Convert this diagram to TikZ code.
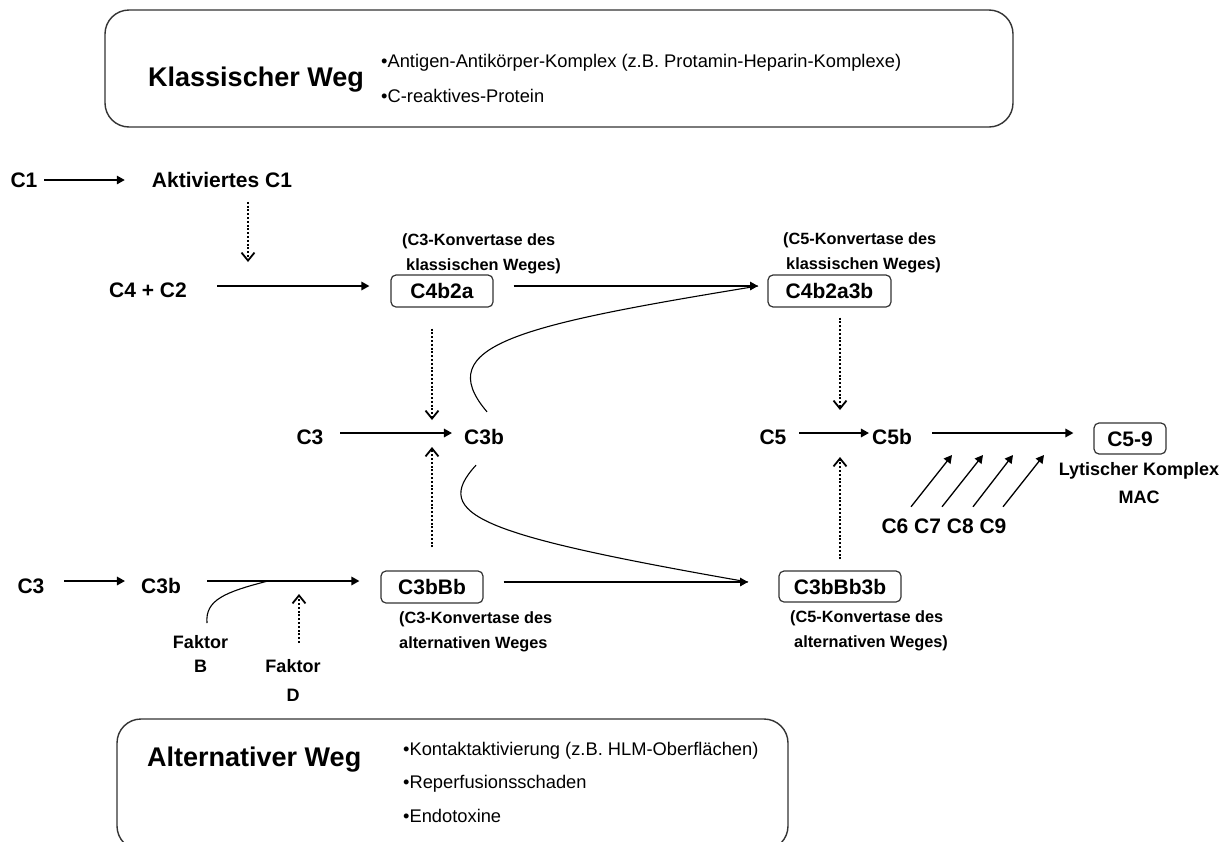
\documentclass[tikz,border=0pt]{standalone}
\usepackage{fontspec}
\setmainfont{Liberation Sans}
\usetikzlibrary{arrows.meta}
\begin{document}
\begin{tikzpicture}[x=1pt,y=-1pt,
  xlbl/.style={font=\fontsize{21}{25}\selectfont\bfseries, inner sep=0pt, text height=15.3pt, text depth=0pt},
  xbox/.style={xlbl, draw=black!80, line width=1.2pt, rounded corners=5pt, minimum height=32pt},
  xnote/.style={font=\fontsize{16.3}{24.5}\selectfont\bfseries, inner sep=0pt, align=left, anchor=north west},
  xsub/.style={font=\fontsize{18}{24}\selectfont\bfseries, inner sep=0pt, align=center, anchor=north},
  xframe/.style={draw=black!80, line width=1.4pt, rounded corners=24pt, inner sep=0pt},
  xhead/.style={font=\fontsize{27}{32}\selectfont\bfseries, inner sep=0pt, anchor=base west},
  xitem/.style={font=\fontsize{18.3}{22}\selectfont, inner sep=0pt, anchor=base west},
  xarr/.style={line width=1.6pt, -{Triangle[length=8pt,width=8.5pt]}},
  xcat/.style={line width=2pt, dash pattern=on 2pt off 1.8pt, -{Straight Barb[length=8pt,width=13pt,line width=1.8pt]}},
  xlink/.style={line width=1.1pt},
]
\useasboundingbox (0,0) rectangle (1226,841);

% trigger frames
\node[xframe, minimum width=908pt, minimum height=117pt] (klass) at (559,68.5) {};
\node[xhead] (klassT) at (148,86.7) {Klassischer Weg};
\node[xitem] (kl1) at (381,67.5) {•Antigen-Antikörper-Komplex (z.B. Protamin-Heparin-Komplexe)};
\node[xitem] (kl2) at (381,102.5) {•C-reaktives-Protein};

\node[xframe, minimum width=671pt, minimum height=131pt] (alt) at (452.5,784.5) {};
\node[xhead] (altT) at (147,766.7) {Alternativer Weg};
\node[xitem] (al1) at (403,755.5) {•Kontaktaktivierung (z.B. HLM-Oberflächen)};
\node[xitem] (al2) at (403,788.5) {•Reperfusionsschaden};
\node[xitem] (al3) at (403,822.5) {•Endotoxine};

% components
\node[xlbl] (c1) at (24,180) {C1};
\node[xlbl] (akt) at (222,180) {Aktiviertes C1};
\node[xlbl] (c42) at (148,290) {C4 + C2};
\node[xbox, minimum width=102pt] (c4b2a) at (442,291) {C4b2a};
\node[xbox, minimum width=123pt] (c4b2a3b) at (829.5,291) {C4b2a3b};
\node[xlbl] (c3m) at (310,437) {C3};
\node[xlbl] (c3bm) at (484,437) {C3b};
\node[xlbl] (c5) at (773,437) {C5};
\node[xlbl] (c5b) at (892,437) {C5b};
\node[xbox, minimum width=72pt, minimum height=31pt] (c59) at (1130,438.5) {C5-9};
\node[xlbl] (c3l) at (31,586) {C3};
\node[xlbl] (c3bl) at (161,586) {C3b};
\node[xbox, minimum width=102pt] (c3bbb) at (432,587) {C3bBb};
\node[xbox, minimum width=122pt, minimum height=31pt] (c3bbb3b) at (840,586.5) {C3bBb3b};
\node[xlbl] (c69) at (944,526) {C6 C7 C8 C9};

% annotations
\node[xnote] (k3k) at (402,233.8) {(C3-Konvertase des\\\hspace*{4pt}klassischen Weges)};
\node[xnote] (k5k) at (783,232.8) {(C5-Konvertase des\\\hspace*{3pt}klassischen Weges)};
\node[xnote] (k3a) at (399,611.8) {(C3-Konvertase des\\alternativen Weges};
\node[xnote] (k5a) at (790,610.8) {(C5-Konvertase des\\\hspace*{4pt}alternativen Weges)};
\node[xsub] (lyt) at (1139,462.3) {Lytischer Komplex\\[4pt]MAC};
\node[xsub] (fbn) at (200.5,635.3) {Faktor\\B};
\node[xsub] (fdn) at (293,659.3) {Faktor\\[5pt]D};

% points on the reaction arrows
\coordinate (cat1) at (248,286);
\coordinate (tipA) at (758,286);
\coordinate (cat2) at (432,433);
\coordinate (cat3) at (840,433);
\coordinate (cat4) at (299,581);
\coordinate (fbj) at (268,581);
\coordinate (tipB) at (748,582);
\coordinate (t6) at (952,455);
\coordinate (t7) at (983,455);
\coordinate (t8) at (1013,455);
\coordinate (t9) at (1044,455);

% reaction arrows
\draw[xarr, shorten <=6.6pt, shorten >=27pt] (c1.east) -- (akt.west);
\draw[xarr, shorten <=30pt, shorten >=21pt] (c42.east |- cat1) -- (c4b2a.west |- cat1);
\draw[xarr, shorten <=20pt] (c4b2a.east |- tipA) -- (tipA);
\draw[xarr, shorten <=16.6pt, shorten >=12pt] (c3m.east |- cat2) -- (c3bm.west |- cat2);
\draw[xarr, shorten <=12.6pt, shorten >=3pt] (c5.east |- cat3) -- (c5b.west |- cat3);
\draw[xarr, shorten <=20pt, shorten >=20pt] (c5b.east |- cat3) -- (c59.west |- cat3);
\draw[xarr, shorten <=19.6pt, shorten >=16pt] (c3l.east |- cat4) -- (c3bl.west |- cat4);
\draw[xarr, shorten <=26pt, shorten >=21pt] (c3bl.east |- cat4) -- (c3bbb.west |- cat4);
\draw[xarr, shorten <=20pt] (c3bbb.east |- tipB) -- (tipB);

% C6..C9 joining
\draw[xarr, line width=1.3pt] ([shift={(-33pt,11.35pt)}]c69.north) -- (t6);
\draw[xarr, line width=1.3pt] ([shift={(-2pt,11.35pt)}]c69.north) -- (t7);
\draw[xarr, line width=1.3pt] ([shift={(29pt,11.35pt)}]c69.north) -- (t8);
\draw[xarr, line width=1.3pt] ([shift={(59pt,11.35pt)}]c69.north) -- (t9);

% C3b joining the convertases
\draw[xlink] ([shift={(3pt,17.35pt)}]c3bm.north) .. controls (430,345) and (520,325) .. (tipA);
\draw[xlink] ([shift={(-8pt,-20.35pt)}]c3bm.south) .. controls (430,515) and (480,535) .. (tipB);
\draw[xlink] ([shift={(6.5pt,12.3pt)}]fbn.north) .. controls (205,600) and (225,592) .. (fbj);

% catalytic (dotted) arrows
\draw[xcat, shorten <=14pt, shorten >=24pt] (cat1 |- akt.south) -- (cat1);
\draw[xcat, shorten <=21pt, shorten >=13pt] (cat2 |- c4b2a.south) -- (cat2);
\draw[xcat, shorten <=23pt, shorten >=14pt] (cat2 |- c3bbb.north) -- (cat2);
\draw[xcat, shorten <=10pt, shorten >=23pt] (cat3 |- c4b2a3b.south) -- (cat3);
\draw[xcat, shorten <=11pt, shorten >=24pt] (cat3 |- c3bbb3b.north) -- (cat3);
\draw[xcat, shorten <=16.3pt, shorten >=13pt] (cat4 |- fdn.north) -- (cat4);
\end{tikzpicture}
\end{document}
